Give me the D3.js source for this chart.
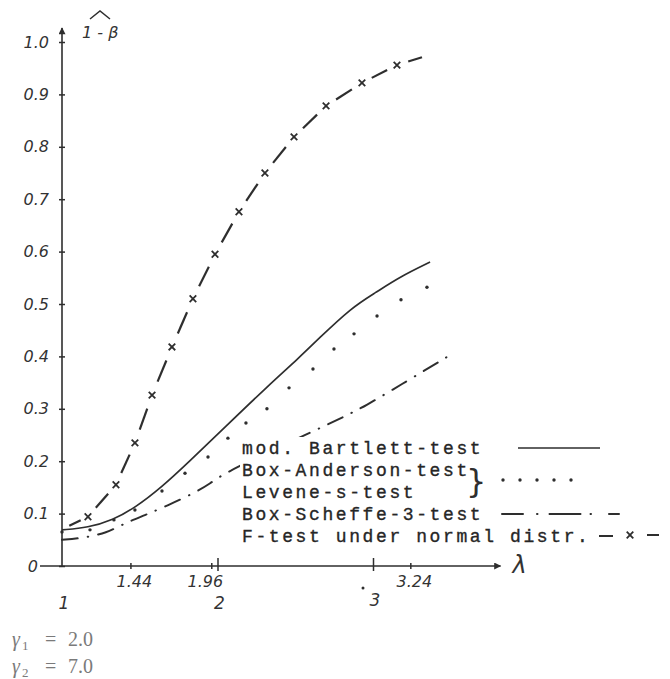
<!DOCTYPE html>
<html>
<head>
<meta charset="utf-8">
<script src="https://cdn.jsdelivr.net/npm/d3@7"></script>
<style>
  body { margin: 0; background: #fff; }
  svg { display: block; }
  .hand { font-family: "DejaVu Sans", "Liberation Sans", sans-serif; font-style: oblique; fill: #333; }
  .mono { font-family: "Liberation Mono", "DejaVu Sans Mono", monospace; fill: #262626; stroke: #262626; stroke-width: 0.35; }
  .serif { font-family: "Liberation Serif", "DejaVu Serif", serif; fill: #7a7a7a; }
</style>
</head>
<body>
<svg id="chart" width="670" height="679"></svg>
<script>
// ---- data ----
// F-test under normal distribution (dashes with x marks)
const lambdaF = [1.0, 1.167, 1.347, 1.469, 1.579, 1.707, 1.842, 1.984, 2.138, 2.305, 2.492, 2.698, 2.929, 3.154, 3.315];
const powerF  = [0.070, 0.094, 0.155, 0.235, 0.326, 0.418, 0.510, 0.595, 0.676, 0.750, 0.819, 0.878, 0.922, 0.956, 0.971];

// mod. Bartlett-test (solid)
const lambdaBart = [1.0, 1.167, 1.328, 1.469, 1.643, 1.81, 2.048, 2.318, 2.531, 2.64, 2.865, 3.013, 3.174, 3.367];
const powerBart  = [0.069, 0.073, 0.088, 0.111, 0.151, 0.197, 0.265, 0.342, 0.399, 0.431, 0.494, 0.521, 0.552, 0.580];

// Box-Anderson-test / Levene-s-test (dotted)
const lambdaBA = [1.0, 1.18, 1.334, 1.469, 1.643, 1.791, 1.939, 2.067, 2.183, 2.318, 2.46, 2.614, 2.749, 2.878, 3.026, 3.18, 3.347];
const powerBA  = [0.065, 0.069, 0.088, 0.107, 0.143, 0.177, 0.208, 0.244, 0.273, 0.300, 0.340, 0.376, 0.414, 0.443, 0.477, 0.508, 0.532];

// Box-Scheffe-3-test (dash-dot)
const lambdaBS = [1.0, 1.129, 1.289, 1.405, 1.534, 1.682, 1.836, 1.958, 2.048, 2.659, 2.807, 2.949, 3.174, 3.476];
const powerBS  = [0.050, 0.053, 0.063, 0.082, 0.097, 0.116, 0.137, 0.158, 0.179, 0.263, 0.284, 0.305, 0.345, 0.399];

// axis ticks and labels
const yTicks = [0, 0.1, 0.2, 0.3, 0.4, 0.5, 0.6, 0.7, 0.8, 0.9, 1.0];
const yTickLabels = ["0", "0.1", "0.2", "0.3", "0.4", "0.5", "0.6", "0.7", "0.8", "0.9", "1.0"];
const xSmallTicks = [1.44, 1.96, 3.24];
const xSmallLabels = ["1.44", "1.96", "3.24"];
const xBigTicks = [1, 2, 3];
const xBigLabels = ["1", "2", "3"];

const legendNames = ["mod. Bartlett-test", "Box-Anderson-test", "Levene-s-test", "Box-Scheffe-3-test", "F-test under normal distr."];

const ink = "#2e2e2e";

let svg = d3.select("#chart");

// scales
let x = d3.scaleLinear().domain([1, 3]).range([62, 373]);
let y = d3.scaleLinear().domain([0, 1]).range([566, 42]);

// arrow heads
let defs = svg.append("defs");
defs.append("marker")
  .attr("id", "arrow")
  .attr("viewBox", "0 0 10 10")
  .attr("refX", 9).attr("refY", 5)
  .attr("markerWidth", 9).attr("markerHeight", 7)
  .attr("markerUnits", "userSpaceOnUse")
  .attr("orient", "auto")
  .append("path")
  .attr("d", "M0,0 L10,5 L0,10 z")
  .attr("fill", ink);

// axis lines
svg.append("line")
  .attr("x1", x(1)).attr("x2", x(1))
  .attr("y1", y(0)).attr("y2", y(1) - 14)
  .attr("stroke", ink).attr("stroke-width", 1.6)
  .attr("marker-end", "url(#arrow)");
svg.append("line")
  .attr("x1", x(1) - 22).attr("x2", x(3.82))
  .attr("y1", y(0)).attr("y2", y(0))
  .attr("stroke", ink).attr("stroke-width", 1.4)
  .attr("marker-end", "url(#arrow)");

// y axis ticks
let yAxis = d3.axisLeft(y).tickValues(yTicks).tickSize(3).tickFormat((d, i) => yTickLabels[i]);
let gy = svg.append("g")
  .attr("transform", `translate(${x(1)},0)`)
  .call(yAxis);
gy.attr("font-family", null).attr("font-size", null);
gy.select(".domain").remove();
gy.selectAll(".tick line").attr("x1", -3).attr("x2", 3).attr("stroke", ink).attr("stroke-width", 1.5);
gy.selectAll(".tick text")
  .attr("class", "hand")
  .attr("font-size", 16)
  .attr("x", (d, i) => i === 0 ? -24 : -13);

// x axis ticks
let xAxis = d3.axisBottom(x).tickValues(xSmallTicks.concat([2, 3])).tickSize(3).tickFormat("");
let gx = svg.append("g")
  .attr("transform", `translate(0,${y(0)})`)
  .call(xAxis);
gx.select(".domain").remove();
gx.selectAll(".tick line")
  .attr("y1", d => (d === 2 || d === 3) ? -8 : -3)
  .attr("y2", d => (d === 2 || d === 3) ? 5 : 3)
  .attr("stroke", ink).attr("stroke-width", 1.5);

svg.append("g").selectAll("text")
  .data(xSmallTicks)
  .join("text")
  .attr("class", "hand")
  .attr("font-size", 16)
  .attr("text-anchor", "middle")
  .attr("x", (d, i) => x(d) + (i === 1 ? -6 : 4))
  .attr("y", y(0) + 21)
  .text((d, i) => xSmallLabels[i]);

svg.append("g").selectAll("text")
  .data(xBigTicks)
  .join("text")
  .attr("class", "hand")
  .attr("font-size", 17)
  .attr("text-anchor", "middle")
  .attr("x", d => x(d) + 2)
  .attr("y", d => y(0) + (d === 3 ? 40 : 43))
  .text((d, i) => xBigLabels[i]);
// the stray dot in front of the "3"
svg.append("circle")
  .attr("cx", x(3) - 10).attr("cy", y(0) + 22).attr("r", 1.5).attr("fill", ink);

// axis titles
let yTitle = svg.append("g").attr("transform", `translate(${x(1) + 20},${y(1) - 4})`);
yTitle.append("text")
  .attr("class", "hand")
  .attr("font-size", 16)
  .text("1 - β");
yTitle.append("path")
  .attr("d", "M8,-19 L18,-27 L28,-19")
  .attr("fill", "none").attr("stroke", ink).attr("stroke-width", 1.5);

svg.append("text")
  .attr("class", "hand")
  .attr("font-family", "DejaVu Serif, serif")
  .attr("font-size", 24)
  .attr("x", x(3.82) + 12)
  .attr("y", y(0) + 7)
  .text("λ");

// ---- curves ----
// mod. Bartlett: solid
let bart = lambdaBart.map((l, i) => [l, powerBart[i]]);
svg.append("path")
  .datum(bart)
  .attr("d", d3.line().x(d => x(d[0])).y(d => y(d[1])).curve(d3.curveBasis))
  .attr("fill", "none").attr("stroke", ink).attr("stroke-width", 1.7);

// Box-Anderson / Levene: dots
let ba = lambdaBA.map((l, i) => [l, powerBA[i]]);
svg.append("g").selectAll("circle")
  .data(ba)
  .join("circle")
  .attr("cx", d => x(d[0])).attr("cy", d => y(d[1]))
  .attr("r", 1.7).attr("fill", ink);

// Box-Scheffe-3: dash-dot
let bs = lambdaBS.map((l, i) => [l, powerBS[i]]);
svg.append("path")
  .datum(bs)
  .attr("d", d3.line().x(d => x(d[0])).y(d => y(d[1])).curve(d3.curveBasis))
  .attr("fill", "none").attr("stroke", ink).attr("stroke-width", 2)
  .attr("stroke-linecap", "round")
  .attr("stroke-dasharray", "16,10,0.5,10");

// F-test: a dash between every pair of points, x marks on the inner points
let fpts = lambdaF.map((l, i) => [x(l), y(powerF[i])]);
let fsegs = d3.pairs(fpts).map(([a, b], i, arr) => {
  let t0 = i === arr.length - 1 ? 0.45 : 0.28;
  let t1 = i === arr.length - 1 ? 1.0 : 0.72;
  return [a[0] + (b[0] - a[0]) * t0, a[1] + (b[1] - a[1]) * t0,
          a[0] + (b[0] - a[0]) * t1, a[1] + (b[1] - a[1]) * t1];
});
svg.append("g").selectAll("line")
  .data(fsegs)
  .join("line")
  .attr("x1", d => d[0]).attr("y1", d => d[1])
  .attr("x2", d => d[2]).attr("y2", d => d[3])
  .attr("stroke", ink).attr("stroke-width", 2.2);
svg.append("g").selectAll("path")
  .data(fpts.slice(1, -1))
  .join("path")
  .attr("transform", d => `translate(${d[0]},${d[1]})`)
  .attr("d", d3.symbol(d3.symbolTimes, 30))
  .attr("fill", "none").attr("stroke", ink).attr("stroke-width", 1.8);

// ---- legend ----
let legend = svg.append("g").attr("transform", "translate(242,454)");
let rows = legend.selectAll("g")
  .data(legendNames)
  .join("g")
  .attr("transform", (d, i) => `translate(0,${i * 22})`);
let rowText = rows.append("text")
  .attr("class", "mono")
  .attr("font-size", 18)
  .attr("letter-spacing", 2.6)
  .text(d => d);
rowText.each(function () {
  let b = this.getBBox();
  d3.select(this.parentNode).insert("rect", "text")
    .attr("x", b.x - 2).attr("y", b.y - 2)
    .attr("width", b.width + 4).attr("height", b.height + 4)
    .attr("fill", "#fff");
});

// legend keys
svg.append("line")
  .attr("x1", 518).attr("x2", 600).attr("y1", 448).attr("y2", 448)
  .attr("stroke", ink).attr("stroke-width", 1.7);
svg.append("text")
  .attr("font-family", "DejaVu Sans, sans-serif")
  .attr("font-size", 32)
  .attr("fill", ink)
  .attr("x", 466).attr("y", 492)
  .text("}");
svg.append("g").selectAll("circle")
  .data(d3.range(5))
  .join("circle")
  .attr("cx", d => 503 + d * 17).attr("cy", 480)
  .attr("r", 1.7).attr("fill", ink);
svg.append("line")
  .attr("x1", 502).attr("x2", 622).attr("y1", 514).attr("y2", 514)
  .attr("stroke", ink).attr("stroke-width", 2)
  .attr("stroke-linecap", "round")
  .attr("stroke-dasharray", "21,14,0.5,12,31,10,0.5,18,10");
svg.append("line")
  .attr("x1", 599).attr("x2", 613).attr("y1", 536).attr("y2", 536)
  .attr("stroke", ink).attr("stroke-width", 2);
svg.append("path")
  .attr("transform", "translate(630,535)")
  .attr("d", d3.symbol(d3.symbolTimes, 30))
  .attr("fill", "none").attr("stroke", ink).attr("stroke-width", 1.8);
svg.append("line")
  .attr("x1", 647).attr("x2", 659).attr("y1", 535).attr("y2", 535)
  .attr("stroke", ink).attr("stroke-width", 2);

// ---- parameter note ----
const gammaNames = ["1", "2"];
const gammaValues = ["2.0", "7.0"];
let note = svg.append("g").selectAll("g")
  .data(gammaNames)
  .join("g")
  .attr("transform", (d, i) => `translate(12,${646 + i * 27})`);
note.append("text").attr("class", "serif").attr("font-size", 20).attr("font-style", "italic").text("γ");
note.append("text").attr("class", "serif").attr("font-size", 13).attr("x", 10).attr("y", 4).text(d => d);
note.append("text").attr("class", "serif").attr("font-size", 20).attr("x", 33).text("=");
note.append("text").attr("class", "serif").attr("font-size", 20).attr("x", 56).text((d, i) => gammaValues[i]);
</script>
</body>
</html>
